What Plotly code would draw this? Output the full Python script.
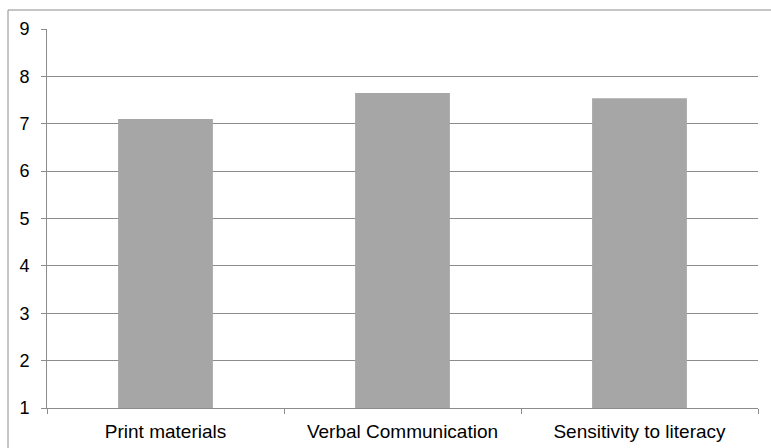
import plotly.graph_objects as go

# Category labels and mean scores
categories = ["Print materials", "Verbal Communication", "Sensitivity to literacy"]
scores = [7.1, 7.65, 7.54]
y_ticks = [1, 2, 3, 4, 5, 6, 7, 8, 9]

W, H = 771, 448
L, R, T, B = 47, 13, 29, 40
plot_w = W - L - R
plot_h = H - T - B

fig = go.Figure(
    go.Bar(
        x=categories,
        y=scores,
        marker=dict(color="#a6a6a6", line=dict(width=0)),
    )
)

# Frame around the whole chart area
def px_x(px):
    return (px - L) / plot_w

def px_y(py):
    return (H - B - py) / plot_h

fig.add_shape(
    type="rect", xref="paper", yref="paper",
    x0=px_x(8), x1=px_x(776), y0=px_y(456), y1=px_y(10),
    line=dict(color="#8c8c8c", width=1), fillcolor="rgba(0,0,0,0)",
    layer="below",
)

fig.update_layout(
    width=W, height=H,
    margin=dict(l=L, r=R, t=T, b=B, pad=0, autoexpand=False),
    paper_bgcolor="white", plot_bgcolor="white",
    bargap=0.6,
    showlegend=False,
    font=dict(family="Liberation Sans, Arial, sans-serif", color="#000000"),
)

fig.update_xaxes(
    type="category",
    tickson="boundaries",
    ticks="outside", ticklen=5, tickcolor="#8c8c8c",
    showgrid=False,
    showline=True, linecolor="#8c8c8c", linewidth=1,
    tickfont=dict(size=19),
    ticklabelstandoff=6,
    automargin=False,
)

fig.update_yaxes(
    range=[1, 9],
    tickvals=y_ticks,
    ticks="outside", ticklen=5, tickcolor="#8c8c8c",
    showgrid=True, gridcolor="#8c8c8c", gridwidth=1,
    showline=True, linecolor="#8c8c8c", linewidth=1,
    zeroline=False,
    tickfont=dict(size=18),
    ticklabelstandoff=8,
    automargin=False,
)

fig.write_html("out.html")
